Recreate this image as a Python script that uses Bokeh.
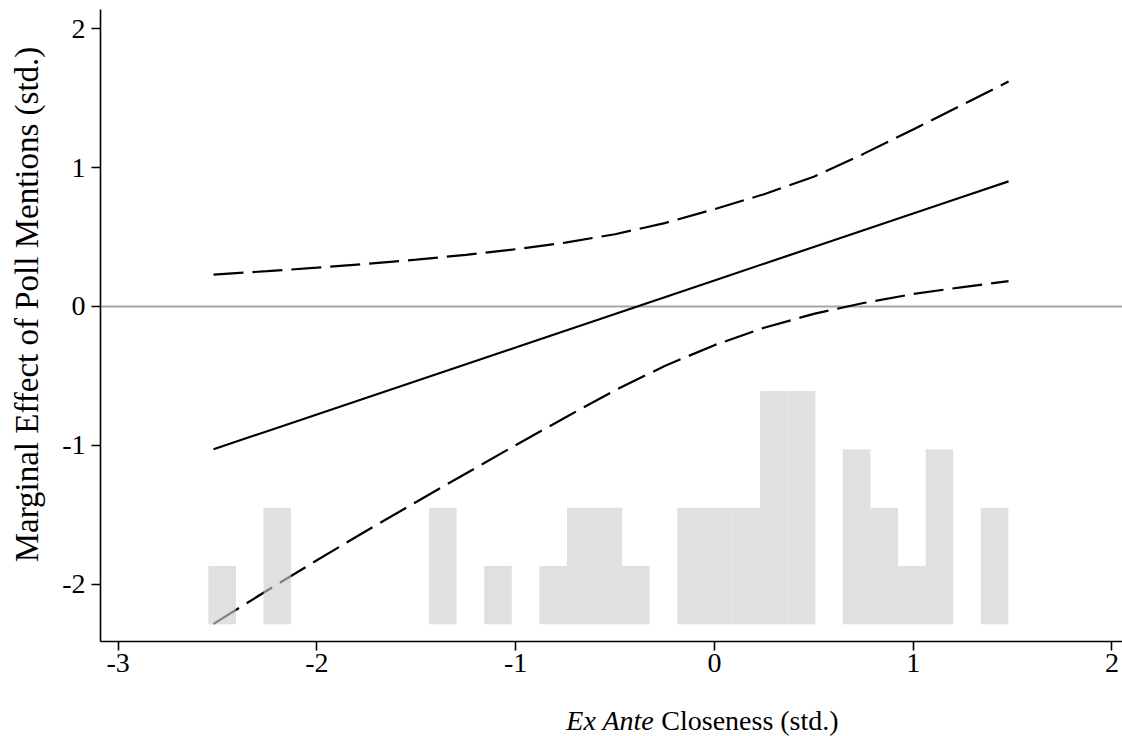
import math
from bokeh.plotting import figure
from bokeh.layouts import column, row
from bokeh.models import Range1d, FixedTicker, Span, CustomJSTickFormatter
from bokeh.core.properties import value
from bokeh.embed import file_html
from bokeh.resources import INLINE

# ---- data ----
closeness = [-2.52, -2.25, -2.0, -1.75, -1.5, -1.25, -1.0, -0.75, -0.5,
             -0.25, 0.0, 0.25, 0.5, 0.75, 1.0, 1.25, 1.48]
effect = [-1.027, -0.897, -0.777, -0.656, -0.536, -0.415, -0.295, -0.174, -0.054,
          0.067, 0.187, 0.308, 0.428, 0.549, 0.669, 0.790, 0.900]
ci_upper = [0.230, 0.254, 0.279, 0.307, 0.337, 0.372, 0.412, 0.460, 0.520,
            0.600, 0.700, 0.808, 0.933, 1.098, 1.273, 1.453, 1.618]
ci_lower = [-2.283, -2.043, -1.826, -1.613, -1.406, -1.201, -0.998, -0.798, -0.603,
            -0.428, -0.278, -0.153, -0.053, 0.025, 0.090, 0.140, 0.182]

hist_counts = [1, 0, 2, 0, 0, 0, 0, 0, 2, 0, 1, 0, 1, 2, 2, 1, 0,
               2, 2, 2, 4, 4, 0, 3, 2, 1, 3, 0, 2]
hist_start = -2.546
hist_bin_width = 0.1388

x_ticks = [-3, -2, -1, 0, 1, 2]
y_ticks = [-2, -1, 0, 1, 2]

x_title_italic = "Ex Ante"
x_title_rest = "Closeness (std.)"
y_title = "Marginal Effect of Poll Mentions (std.)"

# ---- layout / style ----
FONT = "Liberation Serif"
hist_base = -2.286
hist_unit = 0.4194
STRIP_W = 46

xr = Range1d(-3.0886, 2.0533)
p = figure(width=1122 - STRIP_W, height=700, output_backend="svg",
           toolbar_location=None, x_range=xr, y_range=Range1d(-2.4101, 2.1367),
           min_border_left=100 - STRIP_W, min_border_right=0, min_border_top=9,
           min_border_bottom=59)
p.outline_line_color = None
p.xgrid.visible = False
p.ygrid.visible = False
p.background_fill_color = "white"
p.border_fill_color = "white"

zero = Span(location=0, dimension="width", line_color="#a6a6a6", line_width=1.8,
            level="underlay")
p.add_layout(zero)

p.line(closeness, effect, line_color="black", line_width=2.2)
p.line(closeness, ci_upper, line_color="black", line_width=2.2, line_dash="30 9")
p.line(closeness, ci_lower, line_color="black", line_width=2.2, line_dash="30 9")

lefts, rights, tops, bottoms = [], [], [], []
for i, c in enumerate(hist_counts):
    if c > 0:
        lefts.append(hist_start + i * hist_bin_width)
        rights.append(hist_start + (i + 1) * hist_bin_width)
        bottoms.append(hist_base)
        tops.append(hist_base + c * hist_unit)
p.quad(left=lefts, right=rights, top=tops, bottom=bottoms,
       fill_color="#cdcdcd", fill_alpha=0.62, line_color=None)

fmt = CustomJSTickFormatter(code="return String(tick);")
for ax, ticks in ((p.xaxis, x_ticks), (p.yaxis, y_ticks)):
    ax.ticker = FixedTicker(ticks=ticks)
    ax.formatter = fmt
    ax.minor_tick_line_color = None
    ax.major_tick_in = 0
    ax.major_tick_out = 9
    ax.major_tick_line_width = 1.6
    ax.axis_line_width = 1.6
    ax.axis_line_color = "black"
    ax.major_tick_line_color = "black"
    ax.major_label_text_font = FONT
    ax.major_label_text_font_size = "28px"
    ax.major_label_text_color = "black"

p.xaxis.major_label_standoff = 3
p.yaxis.major_label_standoff = 6

# y-axis title strip (left)
ys = figure(width=STRIP_W, height=736, output_backend="svg", toolbar_location=None,
            x_range=Range1d(0, STRIP_W), y_range=Range1d(736, 0),
            x_axis_type=None, y_axis_type=None, min_border=0,
            min_border_left=0, min_border_right=0, min_border_top=0,
            min_border_bottom=0)
ys.outline_line_color = None
ys.xgrid.visible = False
ys.ygrid.visible = False
ys.text(x=[26], y=[304], text=[y_title], text_font=value(FONT),
        text_font_size="33px", text_align="center", text_baseline="middle",
        angle=math.pi / 2, text_color="black")

# x-axis title strip (bottom)
t = figure(width=1122 - STRIP_W, height=36, output_backend="svg",
           toolbar_location=None, x_range=xr, y_range=Range1d(0, 36),
           x_axis_type=None, y_axis_type=None,
           min_border_left=100 - STRIP_W, min_border_right=0, min_border_top=0,
           min_border_bottom=0)
t.outline_line_color = None
t.xgrid.visible = False
t.ygrid.visible = False
t.text(x=[-0.7448], y=[16], text=[x_title_italic], text_font=value(FONT),
       text_font_size="28px", text_font_style="italic", text_align="left",
       text_baseline="middle", text_color="black")
t.text(x=[-0.2672], y=[16], text=[x_title_rest], text_font=value(FONT),
       text_font_size="28px", text_font_style="normal", text_align="left",
       text_baseline="middle", text_color="black")

layout = row(ys, column(p, t, spacing=0), spacing=0)
open("out.html", "w").write(file_html(layout, INLINE))
